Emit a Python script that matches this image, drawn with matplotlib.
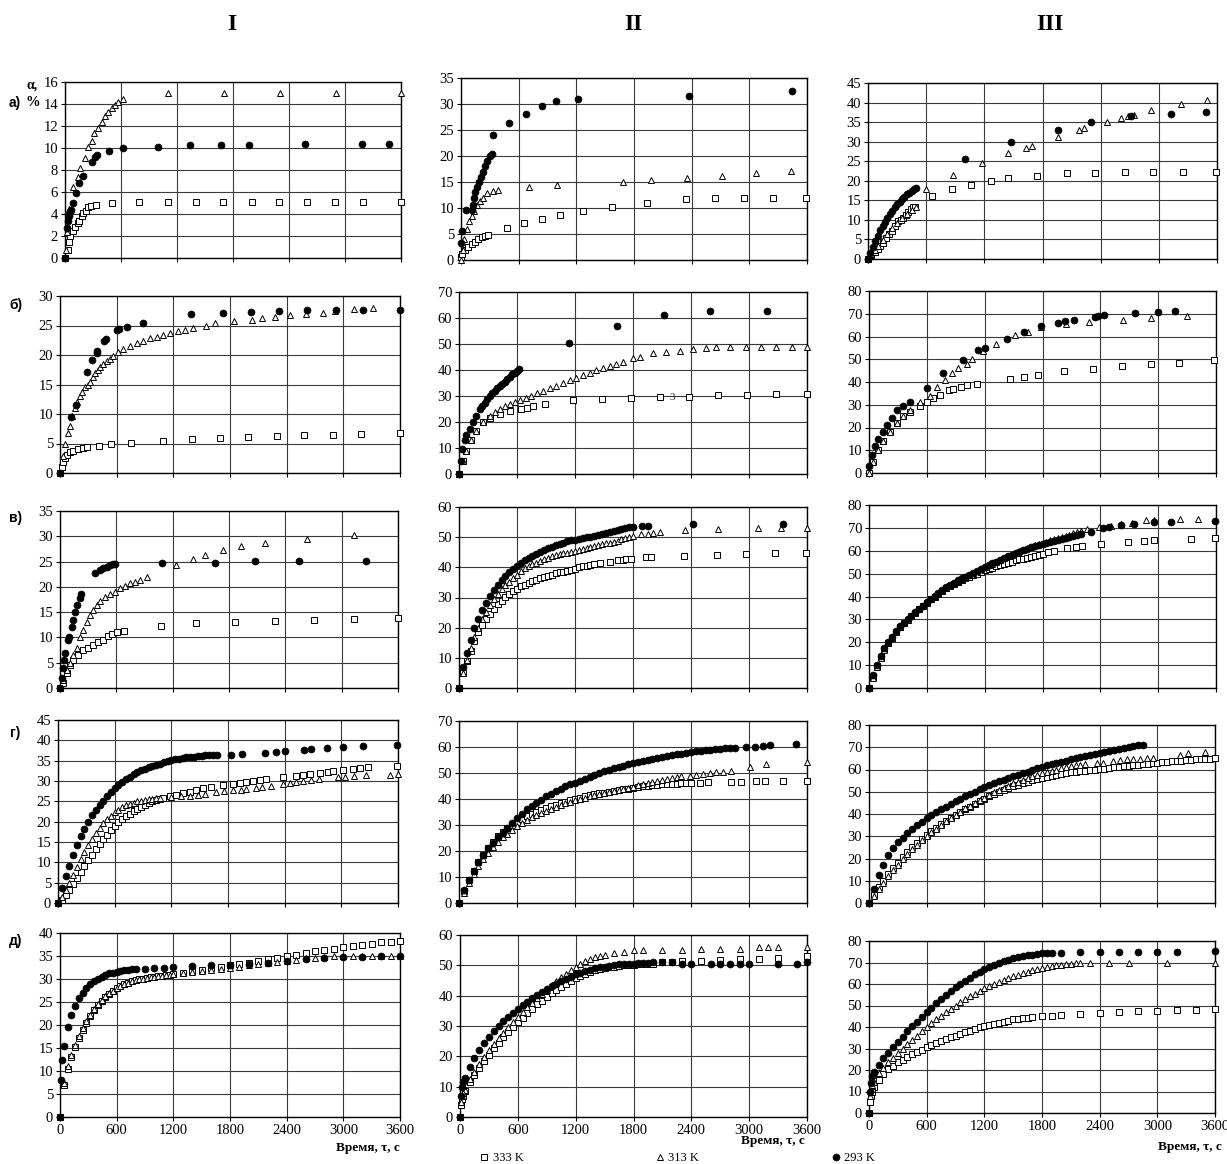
import matplotlib
matplotlib.use("Agg")
import matplotlib.pyplot as plt
from matplotlib.lines import Line2D

plt.rcParams["font.family"] = ["Liberation Serif", "DejaVu Serif"]


def series(step, dense_v, extra_t=(), extra_v=()):
    """Readings logged every `step` seconds from t=0, plus separately logged points."""
    t = [i * step for i in range(len(dense_v))] + list(extra_t)
    v = list(dense_v) + list(extra_v)
    return t, v


# ---------------- data: time (s) and conversion alpha (%) ----------------
# row "а"
a1_sq_t = [0, 29, 43, 54, 82, 107, 136, 150, 179, 196, 225, 250, 275, 332, 500, 796, 1100, 1399, 1696, 1999, 2296, 2595, 2895, 3195, 3600]
a1_sq_v = [0, 0.7, 1.5, 2.0, 2.5, 2.8, 3.2, 3.4, 3.8, 4.1, 4.3, 4.6, 4.7, 4.8, 5.0, 5.05, 5.1, 5.1, 5.1, 5.1, 5.1, 5.1, 5.1, 5.1, 5.1]
a1_tr_t = [7, 18, 36, 46, 89, 136, 161, 214, 250, 286, 314, 350, 393, 428, 464, 500, 536, 571, 625, 1107, 1707, 2303, 2903, 3600]
a1_tr_v = [0.7, 2.4, 4.1, 4.5, 6.5, 7.4, 8.2, 9.1, 10.1, 10.6, 11.4, 11.8, 12.4, 12.9, 13.3, 13.6, 13.9, 14.2, 14.5, 15, 15, 15, 15, 15]
a1_ci_t = [0, 18, 29, 39, 54, 68, 89, 118, 150, 189, 286, 325, 346, 475, 625, 1000, 1339, 1671, 1974, 2570, 3177, 3474]
a1_ci_v = [0, 2.7, 3.4, 3.8, 4.2, 4.4, 5.0, 5.9, 6.8, 7.5, 8.7, 9.2, 9.4, 9.7, 10.0, 10.1, 10.3, 10.3, 10.3, 10.35, 10.35, 10.4]

a2_sq_t = [0, 14, 42, 76, 111, 146, 180, 215, 250, 285, 475, 659, 847, 1034, 1270, 1568, 1933, 2342, 2647, 2949, 3244, 3591]
a2_sq_v = [0.5, 1.2, 2, 2.5, 3, 3.5, 4, 4.4, 4.7, 4.9, 6.2, 7.1, 7.9, 8.6, 9.4, 10.2, 11.0, 11.8, 11.9, 12.0, 12.0, 12.0]
a2_tr_t = [0, 17, 35, 59, 87, 111, 135, 163, 198, 232, 274, 337, 389, 711, 996, 1683, 1974, 2349, 2717, 3071, 3432]
a2_tr_v = [0, 2, 4, 6, 7.5, 8.5, 9.5, 10.5, 11.3, 12, 12.8, 13.2, 13.5, 14.1, 14.5, 15.0, 15.3, 15.8, 16.2, 16.7, 17.2]
a2_ci_t = [0, 7, 49, 111, 121, 135, 149, 170, 191, 212, 232, 253, 274, 302, 319, 330, 503, 677, 847, 989, 1221, 2370, 3442]
a2_ci_v = [3.3, 5.6, 9.7, 9.7, 10.5, 12, 13, 14, 15, 16, 17, 18, 19, 20, 20.3, 24, 26.3, 28.1, 29.6, 30.6, 30.9, 31.6, 32.5]

a3_sq_t = [0, 35, 69, 100, 120, 150, 189, 220, 250, 280, 310, 340, 362, 390, 413, 440, 465, 482, 665, 865, 1058, 1268, 1447, 1747, 2050, 2346, 2646, 2939, 3249, 3593]
a3_sq_v = [0, 1, 1.9, 2.6, 3.2, 4.2, 5.3, 6.3, 7.2, 8.4, 9.6, 10.0, 10.4, 11.3, 12.1, 12.8, 13.3, 13.4, 16, 17.9, 19, 20, 20.6, 21.3, 21.9, 22.1, 22.2, 22.3, 22.3, 22.3]
a3_tr_t = [0, 35, 69, 100, 150, 200, 250, 300, 350, 400, 450, 490, 596, 872, 1171, 1447, 1626, 1692, 1964, 2174, 2232, 2470, 2611, 2677, 2739, 2921, 3231, 3497]
a3_tr_v = [0, 1.2, 2.3, 3.3, 4.8, 6.3, 7.8, 9.2, 10.5, 11.5, 12.5, 13.2, 18, 21.6, 24.6, 27.1, 28.5, 29, 31.2, 33.1, 33.5, 35, 36, 36.5, 36.8, 38.2, 39.6, 40.6]
a3_ci_t = [0, 25, 50, 75, 100, 125, 150, 175, 200, 225, 250, 275, 300, 325, 350, 375, 400, 425, 450, 475, 500, 999, 1474, 1964, 2298, 2715, 3125, 3490]
a3_ci_v = [0, 1.5, 3, 4.5, 6, 7.3, 8.5, 9.5, 10.5, 11.4, 12.3, 13.2, 14, 14.7, 15.3, 15.9, 16.5, 17.0, 17.5, 17.9, 18.2, 25.5, 30, 33, 35, 36.5, 37.2, 37.7]

# row "б"
b1_sq_t = [0, 18, 35, 53, 71, 106, 141, 194, 247, 289, 409, 540, 748, 1094, 1394, 1694, 1994, 2295, 2587, 2888, 3188, 3600]
b1_sq_v = [0, 1, 1.8, 2.5, 3, 3.5, 3.8, 4.1, 4.2, 4.4, 4.6, 4.9, 5.1, 5.4, 5.7, 5.9, 6.1, 6.3, 6.4, 6.5, 6.6, 6.7]
b1_tr_t = [0, 27, 53, 80, 106, 132, 159, 185, 212, 238, 265, 292, 318, 345, 371, 398, 424, 459, 494, 530, 565, 618, 671, 742, 812, 883, 953, 1024, 1094, 1165, 1253, 1324, 1412, 1546, 1641, 1843, 2030, 2136, 2277, 2436, 2605, 2789, 2912, 3113, 3318]
b1_tr_v = [0, 2.8, 5, 6.7, 8, 9.6, 11, 12.1, 13, 13.8, 14.5, 15, 15.5, 16.3, 17, 17.5, 18, 18.5, 19, 19.4, 19.8, 20.5, 21, 21.5, 22, 22.4, 22.8, 23.1, 23.4, 23.7, 24, 24.2, 24.5, 25.0, 25.4, 25.8, 26, 26.3, 26.5, 26.8, 27, 27.2, 27.4, 27.8, 27.9]
b1_ci_t = [0, 116, 166, 290, 343, 388, 396, 466, 487, 607, 628, 706, 875, 1384, 1722, 2019, 2323, 2619, 2919, 3212, 3600]
b1_ci_v = [0, 9.5, 11.6, 17.2, 19.2, 20.3, 20.6, 22.3, 22.7, 24.2, 24.4, 24.8, 25.5, 26.9, 27.1, 27.3, 27.5, 27.6, 27.6, 27.7, 27.7]

b2_sq_t = [0, 41, 76, 128, 179, 248, 317, 421, 524, 645, 707, 765, 886, 1179, 1482, 1783, 2083, 2379, 2679, 2976, 3276, 3600]
b2_sq_v = [0, 5, 9, 13, 16.5, 20, 21.5, 23, 24.2, 25, 25.5, 26, 27, 28.5, 28.8, 29.2, 29.5, 29.8, 30.2, 30.5, 30.6, 30.8]
b2_tr_t = [0, 41, 76, 128, 179, 248, 317, 370, 421, 472, 524, 575, 627, 690, 748, 810, 869, 940, 1007, 1075, 1145, 1215, 1283, 1350, 1421, 1490, 1558, 1625, 1696, 1800, 1869, 2007, 2145, 2283, 2421, 2559, 2662, 2800, 2972, 3127, 3282, 3448, 3600]
b2_tr_v = [0, 5, 9, 13, 16.5, 20, 22.5, 24, 25, 26, 27, 27.8, 28.5, 29.3, 30, 31, 32, 33, 34, 35, 36, 37, 38, 39, 40, 40.8, 41.5, 42.3, 43, 44.5, 45, 46.5, 47, 47.5, 48, 48.5, 48.7, 49, 49, 49, 49, 49, 49]
b2_ci_t = [0, 17, 34, 59, 76, 110, 145, 179, 214, 240, 266, 290, 317, 343, 369, 395, 421, 446, 472, 498, 524, 550, 576, 600, 621, 1134, 1638, 2117, 2593, 3186]
b2_ci_v = [0, 5, 9.5, 13, 15, 17.5, 20, 22.5, 25, 26.3, 27.5, 28.8, 30, 31, 32, 33, 34, 34.8, 35.5, 36.5, 37.5, 38.3, 39, 39.7, 40.3, 50.3, 57.0, 61.0, 62.6, 62.8]

b3_sq_t = [0, 45, 97, 149, 218, 287, 356, 426, 529, 599, 668, 737, 834, 876, 955, 1014, 1125, 1464, 1613, 1758, 2022, 2323, 2624, 2925, 3219, 3583]
b3_sq_v = [0, 5, 10, 14, 18, 22, 25, 27, 29.5, 31, 33, 34.5, 36.5, 36.8, 37.8, 38.5, 39.3, 41.5, 42.3, 43.2, 44.8, 45.8, 47, 47.8, 48.5, 49.6]
b3_tr_t = [0, 45, 97, 149, 218, 287, 356, 426, 529, 633, 703, 789, 858, 927, 1014, 1073, 1187, 1315, 1516, 1654, 1786, 2042, 2285, 2631, 2925, 3299]
b3_tr_v = [0, 5, 10, 14, 18, 22, 25, 27.5, 31, 34, 38, 41, 44, 46, 48, 50, 53.5, 56.5, 60.5, 62, 64, 65.5, 66.5, 67.3, 68.2, 68.9]
b3_ci_t = [0, 28, 62, 97, 149, 183, 235, 287, 356, 426, 599, 765, 980, 1135, 1205, 1430, 1610, 1786, 1956, 2035, 2129, 2340, 2371, 2440, 2755, 2998, 3171]
b3_ci_v = [3, 8, 12, 15, 18, 21, 24, 27.5, 29.5, 31, 37.5, 44, 49.5, 54, 55, 59, 62, 64.5, 66, 67, 67.3, 68.5, 68.8, 69.5, 70.3, 70.8, 71.3]

# row "в"
v1_sq_t = [0, 35, 71, 106, 142, 195, 248, 301, 355, 408, 461, 514, 550, 603, 681, 1071, 1447, 1862, 2288, 2703, 3128, 3600]
v1_sq_v = [0, 1, 3, 4.5, 5.5, 6.5, 7.5, 8, 8.5, 9, 9.5, 10.2, 10.6, 11, 11.2, 12.2, 12.8, 13, 13.2, 13.5, 13.6, 13.8]
v1_tr_t = [0, 35, 71, 106, 142, 177, 213, 248, 284, 319, 355, 390, 426, 479, 532, 585, 638, 692, 745, 798, 851, 922, 1231, 1419, 1543, 1738, 1933, 2188, 2632, 3128]
v1_tr_v = [0, 1.5, 3.5, 5, 6.5, 8, 10, 11.5, 13, 14.5, 15.5, 16.5, 17.3, 18, 18.5, 19, 19.7, 20.2, 20.7, 21, 21.4, 22, 24.3, 25.6, 26.3, 27.2, 28, 28.7, 29.4, 30.2]
v1_ci_t = [0, 18, 35, 46, 57, 82, 92, 124, 142, 160, 184, 213, 227, 372, 426, 461, 497, 532, 568, 585, 1089, 1649, 2075, 2547, 3263]
v1_ci_v = [0, 2, 4, 5.5, 7, 9.5, 10, 12, 13.5, 15, 16.5, 17.8, 18.5, 22.8, 23.3, 23.7, 24, 24.3, 24.5, 24.6, 24.8, 24.8, 25.1, 25.2, 25.2]

v2_sq_t, v2_sq_v = series(
    40,
    [0, 5, 8.8, 12.4, 15.7, 18.6, 21, 22.9, 24.6, 26.3, 27.7, 28.9, 30.2, 31, 32, 32.9, 33.7, 34.3,
     34.9, 35.5, 35.9, 36.4, 36.8, 37.2, 37.6, 38, 38.3, 38.6, 38.9, 39.2, 39.6, 40, 40.3, 40.5, 40.8, 41],
    [1455, 1558, 1645, 1696, 1731, 1782, 1938, 1989, 2324, 2672, 2972, 3272, 3593],
    [41.3, 41.8, 42.3, 42.5, 42.6, 42.7, 43.3, 43.3, 43.8, 44.2, 44.3, 44.6, 44.8])
v2_tr_t, v2_tr_v = series(
    40,
    [0, 5, 9.2, 13.2, 16.8, 20, 22.8, 25.3, 27.6, 29.4, 31.1, 32.7, 34.1, 35.3, 36.5, 37.6, 38.7, 39.7,
     40.4, 41, 41.5, 42, 42.6, 43.2, 43.6, 44, 44.3, 44.6, 44.9, 45.2, 45.5, 45.8, 46.1, 46.4, 46.8, 47.1,
     47.4, 47.7, 48, 48.1, 48.3, 48.7, 49.3, 49.7, 50, 50.3],
    [1886, 1955, 2007, 2076, 2334, 2679, 3093, 3334, 3600],
    [51, 51.2, 51.4, 51.7, 52.3, 52.7, 53, 53, 53])
v2_ci_t, v2_ci_v = series(
    40,
    [0, 7, 11.5, 16, 20, 23, 25.8, 28.3, 30.5, 32.4, 34.1, 35.7, 37, 38.3, 39.5, 40.5, 41.5, 42.3,
     43.1, 43.8, 44.4, 45.1, 45.7, 46.3, 46.8, 47.3, 47.8, 48.2, 48.6, 48.9, 49.2, 49.5, 49.7, 50, 50.2,
     50.4, 50.7, 51, 51.3, 51.6, 51.9, 52.3, 52.7, 53, 53.3, 53.5],
    [1896, 1955, 2424, 3352],
    [53.8, 53.8, 54.2, 54.3])

v3_sq_t, v3_sq_v = series(
    40,
    [0, 5, 9.5, 13.5, 17, 19.8, 22, 24.5, 26.7, 28.3, 29.8, 31.4, 33, 34.4, 35.8, 37.3, 38.7, 40,
     41.2, 42.4, 43.5, 44.5, 45.4, 46.3, 47.1, 47.9, 48.6, 49.3, 50, 50.7, 51.4, 52, 52.6, 53.2, 53.8,
     54.3, 54.8, 55.3, 55.8, 56.2, 56.6, 57, 57.4, 57.8, 58.2, 58.6],
    [1860, 1918, 2057, 2144, 2213, 2403, 2688, 2854, 2958, 3340, 3593],
    [59.3, 60, 61, 61.5, 62, 63, 63.7, 64.3, 64.7, 65.2, 65.5])
v3_tr_t, v3_tr_v = series(
    40,
    [0, 4.5, 9, 13, 16.5, 19.5, 22, 24.5, 26.7, 28.4, 29.9, 31.5, 33.1, 34.5, 36, 37.5, 38.9, 40.1,
     41.4, 42.7, 43.9, 45, 46, 46.9, 47.8, 48.6, 49.5, 50.3, 51.2, 52, 52.8, 53.6, 54.4, 55.2, 56, 56.7,
     57.5, 58.3, 59, 59.7, 60.4, 61, 61.7, 62.3, 62.9, 63.5, 64, 64.6, 65.1, 65.6, 66.1, 66.6, 67.1,
     67.6, 68.1, 68.6],
    [2265, 2386, 2507, 2611, 2733, 2872, 2958, 3225, 3409],
    [69.3, 70.2, 71, 71.5, 72, 73.3, 73.5, 73.9, 73.9])
v3_ci_t, v3_ci_v = series(
    40,
    [0, 5.5, 10, 14, 17.5, 20, 22.3, 24.8, 27, 28.6, 30, 31.6, 33.2, 34.6, 36, 37.6, 39, 40.2,
     41.5, 42.8, 44, 45.1, 46.1, 47, 47.9, 48.7, 49.6, 50.4, 51.3, 52, 52.9, 53.7, 54.5, 55.2, 56, 56.7,
     57.5, 58.2, 58.9, 59.6, 60.3, 60.9, 61.5, 62.1, 62.6, 63.1, 63.5, 64, 64.4, 64.8, 65.2, 65.6, 66,
     66.4, 66.8, 67.2],
    [2300, 2431, 2490, 2612, 2751, 2959, 3131, 3593],
    [68, 69.8, 70.5, 71.3, 71.5, 72.5, 72.7, 72.8])

# row "г"
g1_sq_t, g1_sq_v = series(
    40,
    [0, 0.8, 2, 3.2, 4.6, 6.1, 7.6, 9.1, 10.5, 11.9, 13.2, 14.5, 15.7, 16.8, 17.9, 18.9, 19.8, 20.6,
     21.3, 22, 22.6, 23.2, 23.7, 24.2, 24.6, 25, 25.3, 25.6],
    [1111, 1182, 1253, 1323, 1394, 1464, 1535, 1623, 1747, 1852, 1923, 1994, 2064, 2135, 2205, 2382,
     2523, 2594, 2664, 2770, 2859, 2911, 3017, 3123, 3194, 3282, 3593],
    [25.8, 26.2, 26.6, 27, 27.4, 27.8, 28.2, 28.6, 29, 29.2, 29.5, 29.8, 30, 30.3, 30.5, 31, 31.3,
     31.5, 31.7, 32, 32.2, 32.5, 32.7, 33, 33.2, 33.5, 33.8])
g1_tr_t, g1_tr_v = series(
    40,
    [0, 1.5, 3.2, 5, 6.9, 8.8, 10.7, 12.5, 14.2, 15.8, 17.2, 18.5, 19.6, 20.6, 21.5, 22.3, 22.9, 23.5,
     24, 24.4, 24.7, 25, 25.2, 25.4, 25.5, 25.6, 25.7, 25.8],
    [1200, 1300, 1400, 1482, 1552, 1676, 1753, 1852, 1941, 1994, 2100, 2160, 2258, 2382, 2453, 2523,
     2594, 2682, 2763, 2964, 3035, 3130, 3264, 3511, 3600],
    [26, 26.2, 26.4, 26.6, 26.8, 27.2, 27.5, 27.7, 27.8, 28, 28.3, 28.5, 28.8, 29.3, 29.5, 29.8, 30,
     30.3, 30.5, 31, 31, 31.3, 31.5, 31.5, 31.7])
g1_ci_t, g1_ci_v = series(
    40,
    [0, 3.8, 6.6, 9.2, 11.8, 14.2, 16.4, 18.3, 20, 21.6, 22.8, 24, 25.1, 26.2, 27.2, 28.2, 29, 29.8,
     30.5, 31.1, 31.6, 32.1, 32.6, 33, 33.4, 33.7, 34, 34.3, 34.6, 34.9, 35.1, 35.3, 35.5, 35.7, 35.8,
     35.9, 36, 36.1, 36.2, 36.3, 36.3, 36.4, 36.5],
    [1828, 1948, 2188, 2305, 2400, 2601, 2682, 2848, 3017, 3229, 3593],
    [36.5, 36.7, 37, 37.2, 37.4, 37.7, 37.8, 38, 38.3, 38.5, 38.8])

g2_sq_t, g2_sq_v = series(
    50,
    [0, 4.5, 8.7, 12.4, 15.6, 18.5, 21.2, 23.6, 25.6, 27.3, 28.8, 30.1, 31.3, 32.3, 33.3, 34.2, 35,
     35.8, 36.5, 37.2, 37.8, 38.4, 39, 39.5, 40, 40.5, 41, 41.4, 41.8, 42.2, 42.5, 42.8, 43.1, 43.4,
     43.7, 44, 44.3, 44.6, 44.9, 45.1, 45.3, 45.5, 45.6, 45.7, 45.8, 45.9, 46, 46.1, 46.2],
    [2490, 2576, 2817, 2921, 3076, 3162, 3352, 3600],
    [46.3, 46.5, 46.5, 46.7, 46.8, 47, 47, 47])
g2_tr_t, g2_tr_v = series(
    50,
    [0, 4, 7.8, 11.2, 14.2, 17, 19.4, 21.6, 23.5, 25.2, 26.7, 28.1, 29.5, 30.8, 32, 33.1, 34, 34.8,
     35.5, 36.3, 37, 37.7, 38.4, 39, 39.5, 40, 40.5, 41, 41.5, 42, 42.4, 42.8, 43.2, 43.6, 44, 44.4,
     44.8, 45.2, 45.6, 46, 46.4, 46.8, 47.2, 47.6, 48, 48.3, 48.7],
    [2386, 2455, 2524, 2593, 2662, 2731, 2817, 3007, 3179, 3600],
    [49, 49.3, 49.6, 50, 50.3, 50.5, 50.8, 52.2, 53.3, 54.2])
g2_ci_t, g2_ci_v = series(
    50,
    [0, 5, 9, 12.5, 15.8, 18.5, 21, 23.2, 25.2, 27.1, 28.9, 30.7, 32.6, 34.4, 36, 37.3, 38.5, 39.8,
     41, 42, 43, 44, 44.9, 45.6, 46.3, 47, 47.8, 48.5, 49.2, 49.9, 50.6, 51.2, 51.8, 52.3, 52.8, 53.3,
     53.8, 54.2, 54.6, 55.1, 55.5, 55.9, 56.2, 56.5, 56.9, 57.2, 57.5, 57.8, 58.1, 58.3, 58.6, 58.8,
     59, 59.2, 59.4, 59.5, 59.7, 59.8],
    [2972, 3058, 3145, 3213, 3489],
    [60, 60.1, 60.5, 60.8, 61.3])

g3_sq_t, g3_sq_v = series(
    50,
    [0, 3.6, 7, 10.1, 13, 15.6, 18.1, 20.5, 22.9, 25, 27.1, 28.8, 30.5, 32.2, 33.9, 35.3, 36.8, 38.2,
     39.7, 40.9, 42.1, 43.3, 44.5, 45.7, 46.9, 48, 48.9, 49.9, 50.9, 51.8, 52.5, 53.2, 53.9, 54.6,
     55.1, 55.6, 56, 56.5, 57, 57.5, 57.9, 58.4, 58.7, 59, 59.2, 59.5, 59.7, 60, 60.2, 60.4, 60.6,
     60.9, 61.1, 61.4, 61.6, 61.8, 62.1, 62.3, 62.5, 62.8, 63, 63.2, 63.3, 63.6, 63.8, 64, 64.2, 64.4,
     64.5, 64.7, 64.8, 64.9, 65])
g3_tr_t, g3_tr_v = series(
    50,
    [0, 3.2, 6.1, 9, 12, 14.7, 17.2, 19.6, 21.9, 24.2, 26.2, 28.1, 30, 31.7, 33.4, 35.1, 36.7, 38.2,
     39.7, 41.1, 42.5, 43.8, 45, 46.2, 47.4, 48.6, 49.8, 50.9, 51.9, 52.8, 53.8, 54.6, 55.4, 56.1,
     56.9, 57.6, 58.4, 59, 59.5, 60, 60.5, 61, 61.4, 61.8, 62.2, 62.5],
    [2369, 2438, 2542, 2610, 2680, 2750, 2820, 2890, 2958, 3236, 3322, 3496],
    [62.9, 63, 63.8, 64.2, 64.5, 64.6, 64.8, 65, 65.2, 66.5, 67.2, 68])
g3_ci_t, g3_ci_v = series(
    50,
    [0, 6.5, 12.5, 17.2, 21.4, 24.8, 27.3, 29.3, 31.3, 33.2, 35.1, 36.6, 38, 39.5, 40.9, 42.1, 43.3,
     44.5, 45.7, 46.9, 48.1, 49.1, 50.1, 51.1, 52, 53, 53.9, 54.8, 55.5, 56.2, 57, 57.7, 58.4, 59.1,
     59.8, 60.5, 61.2, 61.8, 62.4, 63, 63.5, 64, 64.5, 65, 65.4, 65.9, 66.3, 66.8, 67.3, 67.8, 68.2,
     68.7, 69.1, 69.6, 70, 70.4, 70.8, 71.2])

# row "д"
d1_sq_t, d1_sq_v = series(
    40,
    [0, 7, 10.5, 13, 15.2, 17.2, 18.9, 20.5, 21.9, 23.2, 24.3, 25.2, 26, 26.8, 27.4, 28, 28.5, 28.9,
     29.2, 29.5, 29.7, 29.9, 30.1, 30.3, 30.4, 30.5, 30.6, 30.7, 30.8, 30.9, 31],
    [1300, 1400, 1500, 1600, 1700, 1800, 1900, 2000, 2100, 2200, 2300, 2400, 2500, 2600, 2700, 2800,
     2900, 3000, 3100, 3200, 3300, 3400, 3500, 3600],
    [31.3, 31.7, 32, 32.3, 32.6, 33, 33.2, 33.5, 33.9, 34.3, 34.6, 35, 35.3, 35.7, 36, 36.3, 36.6, 37,
     37.2, 37.5, 37.7, 38, 38, 38.2])
d1_tr_t, d1_tr_v = series(
    40,
    [0, 7.5, 11, 13.5, 15.7, 17.6, 19.3, 20.8, 22.2, 23.4, 24.5, 25.4, 26.2, 26.9, 27.5, 28, 28.5,
     28.9, 29.2, 29.5, 29.7, 29.9, 30.1, 30.3, 30.4, 30.5, 30.6, 30.7, 30.8, 30.9, 31],
    [1300, 1400, 1500, 1600, 1700, 1800, 1900, 2000, 2100, 2200, 2300, 2400, 2500, 2600, 2700, 2800,
     2900, 3000, 3100, 3200, 3300, 3400, 3500, 3600],
    [31.2, 31.5, 31.7, 32, 32.2, 32.5, 32.7, 33, 33.2, 33.5, 33.7, 34, 34.2, 34.5, 34.6, 34.8, 34.9,
     35, 35, 35, 35, 35, 35, 35])
d1_ci_t, d1_ci_v = series(
    40,
    [0, 15.5, 19.5, 22.2, 24.2, 25.8, 27, 28, 28.9, 29.6, 30.1, 30.5, 30.9, 31.2, 31.4, 31.6, 31.8,
     31.9, 32, 32.1, 32.2],
    [10, 20, 900, 1000, 1100, 1200, 1400, 1600, 1800, 2000, 2200, 2400, 2600, 2800, 3000, 3200, 3400, 3600],
    [8, 12.5, 32.2, 32.3, 32.5, 32.7, 32.8, 33, 33, 33.3, 33.5, 34, 34.3, 34.5, 34.7, 34.8, 34.9, 35])

d2_sq_t, d2_sq_v = series(
    50,
    [0, 8.5, 11.5, 14, 16.3, 18.5, 20.6, 22.6, 24.5, 26.3, 28, 29.7, 31.3, 32.8, 34.3, 35.7, 37.1,
     38.4, 39.6, 40.8, 41.9, 43, 44, 45, 45.8, 46.6, 47.3, 47.9, 48.4, 48.8, 49.1, 49.4, 49.6, 49.8,
     50, 50.1, 50.2, 50.3, 50.4, 50.5, 50.6],
    [10, 20, 30, 2100, 2200, 2300, 2500, 2700, 2900, 3100, 3300, 3600],
    [4, 6, 7, 51, 51, 51.3, 51.5, 51.8, 52, 52.2, 52.5, 53])
d2_tr_t, d2_tr_v = series(
    50,
    [0, 9, 12.5, 15, 17.5, 19.8, 22, 24, 26, 27.8, 29.6, 31.3, 33, 34.6, 36.2, 37.7, 39.2, 40.6, 42,
     43.4, 44.7, 46, 47.2, 48.4, 49.5, 50.5, 51.3, 52, 52.6, 53.1, 53.5],
    [10, 20, 30, 1600, 1700, 1800, 1900, 2100, 2300, 2500, 2700, 2900, 3100, 3200, 3300, 3600],
    [5, 7, 8, 54, 54.5, 55, 55, 55, 55, 55.5, 55.5, 55.5, 56, 56, 56, 56])
d2_ci_t, d2_ci_v = series(
    50,
    [0, 13, 16.5, 19.5, 22, 24.4, 26.5, 28.3, 30, 31.6, 33, 34.4, 35.6, 36.8, 38, 39.1, 40.2, 41.2,
     42.2, 43.1, 44, 44.8, 45.6, 46.3, 47, 47.5, 48, 48.5, 49, 49.3, 49.6, 49.9, 50.1, 50.3, 50.4,
     50.5, 50.6, 50.7, 50.8, 50.9, 51],
    [10, 20, 30, 2100, 2200, 2300, 2400, 2600, 2700, 2800, 2900, 3000, 3300, 3500, 3600],
    [7, 10, 11.5, 51, 51, 50.5, 50.5, 50.5, 50.5, 50.5, 50.5, 50.5, 50.5, 50.5, 51])

d3_sq_t, d3_sq_v = series(
    50,
    [0, 12, 15.5, 18, 20.5, 22, 23.5, 24.8, 26, 27.3, 28.5, 29.5, 30.5, 31.5, 32.5, 33.5, 34.5, 35.3,
     36, 36.8, 37.5, 38.3, 39, 39.8, 40.5, 41, 41.5, 42, 42.5, 43, 43.5, 43.8, 44, 44.3, 44.5],
    [10, 20, 30, 1800, 1900, 2000, 2200, 2400, 2600, 2800, 3000, 3200, 3400, 3600],
    [5, 8, 10, 45, 45.3, 45.5, 46, 46.5, 47, 47.3, 47.5, 47.8, 48, 48.2])
d3_tr_t, d3_tr_v = series(
    50,
    [0, 14.5, 18.5, 21, 23.5, 25.8, 28, 30, 32, 34, 36, 38, 40, 41.8, 43.5, 45.3, 47, 48.5, 50, 51.5,
     53, 54.3, 55.5, 56.8, 58, 59, 60, 61, 62, 62.8, 63.5, 64.3, 65, 65.8, 66.5, 67, 67.5, 68, 68.5,
     68.8, 69, 69.3, 69.5, 69.7, 69.8],
    [10, 20, 30, 2300, 2500, 2700, 3100, 3600],
    [8, 11, 13, 70, 70, 70, 70, 70])
d3_ci_t, d3_ci_v = series(
    50,
    [0, 19, 22.5, 25.5, 28, 30.5, 33, 35.5, 38, 40.3, 42.5, 44.8, 47, 49, 51, 53, 55, 56.8, 58.5, 60,
     61.5, 63, 64.5, 65.8, 67, 68, 69, 69.8, 70.5, 71.3, 72, 72.5, 73, 73.4, 73.7, 74, 74.2, 74.4, 74.5],
    [10, 20, 30, 2000, 2200, 2400, 2600, 2800, 3000, 3200, 3600],
    [10, 14, 17, 74.5, 74.8, 74.8, 75, 75, 75, 75, 75.5])

x_ticks = [0, 600, 1200, 1800, 2400, 3000, 3600]
row_labels = ["а)", "б)", "в)", "г)", "д)"]
col_titles = ["I", "II", "III"]
legend_labels = ["333 K", "313 K", "293 K"]
x_label = "Время, τ, с"

# ---------------- layout (pixel boxes: left, right, top, bottom) ----------------
W, H = 1227, 1164
fig = plt.figure(figsize=(W / 100, H / 100), dpi=100)

panels = [
    # row а
    ((65, 401, 82, 258), 16, 2, (a1_sq_t, a1_sq_v), (a1_tr_t, a1_tr_v), (a1_ci_t, a1_ci_v)),
    ((461, 807, 78, 260), 35, 5, (a2_sq_t, a2_sq_v), (a2_tr_t, a2_tr_v), (a2_ci_t, a2_ci_v)),
    ((868, 1217, 83, 259), 45, 5, (a3_sq_t, a3_sq_v), (a3_tr_t, a3_tr_v), (a3_ci_t, a3_ci_v)),
    # row б
    ((60, 400, 296, 473), 30, 5, (b1_sq_t, b1_sq_v), (b1_tr_t, b1_tr_v), (b1_ci_t, b1_ci_v)),
    ((459, 807, 292, 474), 70, 10, (b2_sq_t, b2_sq_v), (b2_tr_t, b2_tr_v), (b2_ci_t, b2_ci_v)),
    ((869, 1216, 291, 473), 80, 10, (b3_sq_t, b3_sq_v), (b3_tr_t, b3_tr_v), (b3_ci_t, b3_ci_v)),
    # row в
    ((60, 398, 511, 688), 35, 5, (v1_sq_t, v1_sq_v), (v1_tr_t, v1_tr_v), (v1_ci_t, v1_ci_v)),
    ((459, 807, 507, 688), 60, 10, (v2_sq_t, v2_sq_v), (v2_tr_t, v2_tr_v), (v2_ci_t, v2_ci_v)),
    ((869, 1216, 505, 688), 80, 10, (v3_sq_t, v3_sq_v), (v3_tr_t, v3_tr_v), (v3_ci_t, v3_ci_v)),
    # row г
    ((58, 398, 720, 903), 45, 5, (g1_sq_t, g1_sq_v), (g1_tr_t, g1_tr_v), (g1_ci_t, g1_ci_v)),
    ((459, 807, 721, 903), 70, 10, (g2_sq_t, g2_sq_v), (g2_tr_t, g2_tr_v), (g2_ci_t, g2_ci_v)),
    ((869, 1215, 725, 903), 80, 10, (g3_sq_t, g3_sq_v), (g3_tr_t, g3_tr_v), (g3_ci_t, g3_ci_v)),
    # row д
    ((60, 400, 933, 1117), 40, 5, (d1_sq_t, d1_sq_v), (d1_tr_t, d1_tr_v), (d1_ci_t, d1_ci_v)),
    ((460, 807, 935, 1117), 60, 10, (d2_sq_t, d2_sq_v), (d2_tr_t, d2_tr_v), (d2_ci_t, d2_ci_v)),
    ((869, 1215, 941, 1113), 80, 10, (d3_sq_t, d3_sq_v), (d3_tr_t, d3_tr_v), (d3_ci_t, d3_ci_v)),
]

sq_style = dict(ls="none", marker="s", ms=4.3, mfc="white", mec="black", mew=0.7)
tr_style = dict(ls="none", marker="^", ms=5.0, mfc="white", mec="black", mew=0.7)
ci_style = dict(ls="none", marker="o", ms=5.0, mfc="black", mec="black", mew=0.5)

axes = []
for i, (box, ymax, ystep, sq, tr, ci) in enumerate(panels):
    l, r, t, b = box
    ax = fig.add_axes([l / W, 1 - b / H, (r - l) / W, (b - t) / H])
    axes.append(ax)
    ax.set_xlim(0, 3600)
    ax.set_ylim(0, ymax)
    ax.set_xticks(x_ticks)
    ax.set_yticks(list(range(0, ymax + 1, ystep)))
    ax.grid(True, color="#3a3a3a", lw=0.8)
    ax.set_axisbelow(True)
    for s in ax.spines.values():
        s.set_linewidth(1.0)
        s.set_color("black")
    ax.tick_params(direction="out", length=3, width=0.8, labelsize=10.5, pad=2)
    if i < 12:
        ax.tick_params(axis="x", labelbottom=False)
    ax.plot(sq[0], sq[1], clip_on=False, zorder=3, **sq_style)
    ax.plot(tr[0], tr[1], clip_on=False, zorder=4, **tr_style)
    ax.plot(ci[0], ci[1], clip_on=False, zorder=5, **ci_style)

# stray point label in panel б-II
axes[4].text(2180, 29.5, "3", fontsize=8, ha="left", va="center", color="#333333")

# axis title on the bottom row
for ax, (xr, yr) in zip(axes[12:], [(400, 1148), (805, 1141), (1222, 1147)]):
    fig.text(xr / W, 1 - yr / H, x_label, ha="right", va="center",
             fontsize=9.5, fontweight="bold")

# column headings
for txt, xc in zip(col_titles, [232, 633, 1050]):
    fig.text(xc / W, 1 - 25 / H, txt, ha="center", va="center",
             fontsize=17, fontweight="bold")

# y-axis quantity and row letters
fig.text(32 / W, 1 - 85 / H, "α,", ha="center", va="center", fontsize=10, fontweight="bold")
fig.text(33 / W, 1 - 103 / H, "%", ha="center", va="center", fontsize=10.5, fontweight="bold")
for lab, yc, xc in zip(row_labels, [103, 305, 518, 733, 941], [15, 16, 16, 15, 16]):
    fig.text(xc / W, 1 - yc / H, lab, ha="center", va="center", fontsize=10,
             fontweight="bold", family=["Liberation Sans", "DejaVu Sans"])

# legend
handles = [Line2D([], [], **sq_style), Line2D([], [], **tr_style), Line2D([], [], **ci_style)]
fig.legend(handles, legend_labels, loc="center", bbox_to_anchor=(677 / W, 1 - 1158 / H),
           ncol=3, frameon=False, fontsize=9, handlelength=0.8, handletextpad=0.3,
           columnspacing=10.5, borderpad=0)

fig.savefig("out.png", dpi=100)
